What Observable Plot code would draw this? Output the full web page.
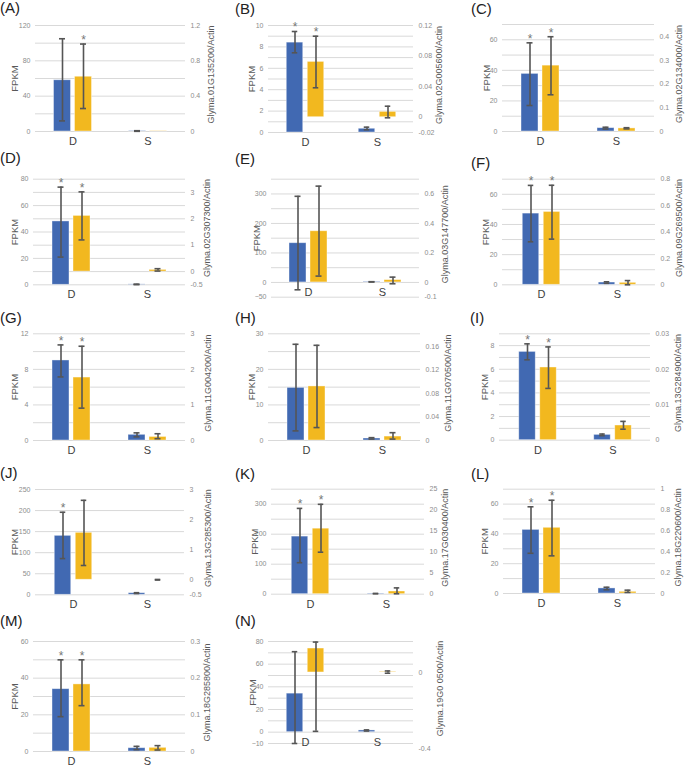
<!DOCTYPE html>
<html><head><meta charset="utf-8">
<script src="https://cdn.jsdelivr.net/npm/d3@7"></script>
<script src="https://cdn.jsdelivr.net/npm/@observablehq/plot@0.6"></script>
<style>
body{margin:0;background:#fff;font-family:"Liberation Sans",Arial,sans-serif;}
#fig{position:relative;width:685px;height:766px;overflow:hidden;background:#fff;}
.plabel{position:absolute;font-size:15px;line-height:15px;color:#222;white-space:nowrap;}
.panel{position:absolute;}
</style></head><body><div id="fig"></div>
<script>
const panelNames = ["(A)","(B)","(C)","(D)","(E)","(F)","(G)","(H)","(I)","(J)","(K)","(L)","(M)","(N)"];
const genes = ["Glyma.01G135200","Glyma.02G005600","Glyma.02G134000","Glyma.02G307300","Glyma.03G147700","Glyma.09G269500","Glyma.11G004200","Glyma.11G070500","Glyma.13G284900","Glyma.13G285300","Glyma.17G030400","Glyma.18G220600","Glyma.18G285800","Glyma.19G0 0500"];
const categories = ["D","S"];

// FPKM (blue, left axis): [D, S]
const fpkmMean = [[58,0.5],[8.4,0.35],[37.7,2.2],[48,0.3],[133,2],[47.2,1.5],[9.0,0.64],[14.8,0.56],[7.47,0.45],[140,3.8],[192,2],[42.7,3.4],[34,1.8],[34,1.5]];
const fpkmLow  = [[12,0.2],[7.45,0.25],[17,1.6],[21,0.1],[-25,1.5],[28.5,1.0],[7.15,0.41],[2.7,0.4],[6.8,0.38],[86,3],[105,1.5],[27,2.5],[19,1],[-14,1]];
const fpkmHigh = [[105,0.9],[9.44,0.5],[58,2.8],[74,0.5],[292,2.5],[65.9,2.0],[10.75,0.86],[27.05,0.8],[8.15,0.52],[196,5],[286,2.5],[58.2,4.2],[50,2.8],[71,2]];

// qRT-PCR Glyma/Actin (yellow, right axis): [D, S]
const qpcrMean = [[0.62,0.003],[0.0724,0.007],[0.278,0.013],[2.11,0.065],[0.347,0.016],[0.552,0.015],[1.77,0.1],[0.092,0.0067],[0.0205,0.00414],[1.56,0.0],[15.6,0.64],[0.63,0.016],[0.183,0.01],[0.126,0.003]];
const qpcrLow  = [[0.26,null],[0.0385,-0.0008],[0.155,0.011],[1.2,0.02],[0.043,-0.009],[0.346,0.0],[0.91,0.05],[0.022,0.0024],[0.0146,0.0031],[0.474,-0.01],[10.0,0.1],[0.361,0.01],[0.125,0.004],[-0.31,-0.004]];
const qpcrHigh = [[0.99,null],[0.106,0.0144],[0.40,0.016],[3.02,0.11],[0.653,0.036],[0.754,0.032],[2.65,0.19],[0.162,0.0133],[0.0263,0.0053],[2.64,0.01],[21.4,1.5],[0.894,0.032],[0.25,0.016],[0.16,0.008]];

// significance asterisks at D: [blue, yellow]
const stars = [[0,1],[1,1],[1,1],[1,1],[0,0],[1,1],[1,1],[0,0],[1,1],[1,0],[1,1],[1,1],[1,1],[0,0]];

// axes
const leftDomain = [[0,120],[0,10],[0,70],[0,80],[-50,350],[0,70],[0,12],[0,30],[0,9],[0,250],[0,350],[0,70],[0,60],[-10,80]];
const leftTicks = [[0,40,80,120],[0,2,4,6,8,10],[0,20,40,60],[0,20,40,60,80],[-50,0,100,200,300],[0,20,40,60],[0,4,8,12],[0,10,20,30],[0,2,4,6,8],[0,50,100,150,200,250],[0,100,200,300],[0,20,40,60],[0,20,40,60],[-10,0,20,40,60,80]];
const gridStep = [20,1,10,10,50,10,2,5,1,50,50,10,10,10];
const rightDomain = [[0,1.2],[-0.02,0.12],[0,0.4516],[-0.5,3.5],[-0.1,0.7],[0,0.8],[0,3],[0,0.1816],[0,0.03],[-0.5,3],[0,25],[0,1],[0,0.3],[-0.374,0.163]];
const rightTicks = [[0,0.4,0.8,1.2],[-0.02,0,0.04,0.08,0.12],[0,0.1,0.2,0.3,0.4],[-0.5,0,1,2,3],[-0.1,0,0.2,0.4,0.6],[0,0.2,0.4,0.6,0.8],[0,1,2,3],[0,0.04,0.08,0.12,0.16],[0,0.01,0.02,0.03],[-0.5,0,1,2,3],[0,5,10,15,20,25],[0,0.2,0.4,0.6,0.8,1],[0,0.1,0.2,0.3],[-0.4,0]];

// page layout (pixels): ox, oy, plotLeft, plotRight, plotTop, plotBottom, labelX, labelY, fpkmTitleX, rightTitleX
const layout = [
  [0,0,35,185,25,131, 0,0, 14,211],
  [228,0,268,413,25,132, 235,1, 251,439],
  [456,0,502,654,24,131, 471,1, 486,679],
  [0,150,33,185,178.7,284.3, 0,150, 14,207],
  [228,150,271,419,178.7,296.7, 235,151, 256,445],
  [456,150,502,655,178.7,284.3, 471,155, 485,679],
  [0,300,33,185,333.3,440, 0,310, 14,208],
  [228,300,268,420,333.3,440, 235,310, 251,448],
  [456,300,499,650,333.3,439.7, 470,310, 484,678],
  [0,450,35,184,489,594.3, 0,465, 14,208],
  [228,450,271,424,488.7,593.7, 235,466, 254,445],
  [456,450,503,655,488.7,593, 471,466, 484,678],
  [0,600,33,185,641,751, 0,613, 14,207],
  [228,600,268,413,641,743, 235,613, 252,440]
];

const BLUE = "#4169b2", GOLD = "#f2b81f", ERR = "#555555", GRID = "#d9d9d9";
const fig = document.getElementById("fig");
const W = 229;

panelNames.forEach((name, i) => {
  const [ox, oy, x0, x1, yTop, yBot, lx, ly, fx, rx] = layout[i];
  const H = Math.min(yBot - oy + 24, 766 - oy);
  const [lmin, lmax] = leftDomain[i];
  const [rmin, rmax] = rightDomain[i];
  const toLeft = r => lmin + (r - rmin) / (rmax - rmin) * (lmax - lmin);
  const clampL = v => Math.max(lmin, Math.min(lmax, v));
  const base = clampL(toLeft(0));
  const half = (x1 - x0) / 4;

  const blue = categories.map((c, j) => ({cat: c, v: fpkmMean[i][j], lo: clampL(fpkmLow[i][j]), hi: clampL(fpkmHigh[i][j]), star: j === 0 && stars[i][0]}));
  const gold = categories.map((c, j) => ({cat: c, v: clampL(toLeft(qpcrMean[i][j])), lo: qpcrLow[i][j] == null ? null : clampL(toLeft(qpcrLow[i][j])), hi: qpcrHigh[i][j] == null ? null : clampL(toLeft(qpcrHigh[i][j])), star: j === 0 && stars[i][1]}));
  const goldErr = gold.filter(d => d.lo != null);

  const rightFmt = new Map(rightTicks[i].map(t => [toLeft(t), String(t)]));
  const grid = d3.range(lmin, lmax + gridStep[i] / 2, gridStep[i]);

  const chart = Plot.plot({
    width: W, height: H,
    marginLeft: x0 - ox, marginRight: ox + W - x1,
    marginTop: yTop - oy, marginBottom: H - (yBot - oy),
    x: {domain: categories, padding: 0, axis: null},
    y: {domain: [lmin, lmax], axis: null},
    style: {fontFamily: "'Liberation Sans', Arial, sans-serif", background: "transparent", overflow: "visible"},
    marks: [
      Plot.ruleY(grid, {stroke: GRID, strokeWidth: 1}),
      Plot.axisY({anchor: "left", ticks: leftTicks[i], tickSize: 0, tickPadding: 5, fontSize: 7, fill: "#8c8c8c", label: null}),
      Plot.axisY({anchor: "right", ticks: [...rightFmt.keys()], tickFormat: d => rightFmt.get(d), tickSize: 0, tickPadding: 5, fontSize: 7, fill: "#8c8c8c", label: null}),
      Plot.text(["FPKM"], {frameAnchor: "left", textAnchor: "middle", dx: fx - x0, rotate: -90, fontSize: 9.5, fill: "#595959"}),
      Plot.text([genes[i] + "/Actin"], {frameAnchor: "right", textAnchor: "middle", dx: rx - x1, dy: -4, rotate: -90, fontSize: 9, fill: "#595959"}),
      Plot.barY(blue, {x: "cat", y1: () => 0, y2: "v", insetLeft: half - 19, insetRight: half + 2, fill: BLUE, stroke: "#ffffff", strokeOpacity: 0.5, strokeWidth: 0.8}),
      Plot.barY(gold, {x: "cat", y1: () => base, y2: "v", insetLeft: half + 2, insetRight: half - 19, fill: GOLD, stroke: "#ffffff", strokeOpacity: 0.5, strokeWidth: 0.8}),
      Plot.ruleX(blue, {x: "cat", y1: "lo", y2: "hi", dx: -10.5, stroke: ERR, strokeWidth: 1.6}),
      Plot.tickY(blue, {x: "cat", y: "hi", insetLeft: half - 13.5, insetRight: half + 7.5, stroke: ERR, strokeWidth: 1.6}),
      Plot.tickY(blue, {x: "cat", y: "lo", insetLeft: half - 13.5, insetRight: half + 7.5, stroke: ERR, strokeWidth: 1.6}),
      Plot.ruleX(goldErr, {x: "cat", y1: "lo", y2: "hi", dx: 10.5, stroke: ERR, strokeWidth: 1.6}),
      Plot.tickY(goldErr, {x: "cat", y: "hi", insetLeft: half + 7.5, insetRight: half - 13.5, stroke: ERR, strokeWidth: 1.6}),
      Plot.tickY(goldErr, {x: "cat", y: "lo", insetLeft: half + 7.5, insetRight: half - 13.5, stroke: ERR, strokeWidth: 1.6}),
      Plot.text(blue.filter(d => d.star), {x: "cat", y: "hi", dx: -10.5, dy: -4, text: () => "*", fontSize: 12, fill: "#777"}),
      Plot.text(gold.filter(d => d.star), {x: "cat", y: "hi", dx: 10.5, dy: -4, text: () => "*", fontSize: 12, fill: "#777"}),
      Plot.text(categories, {x: d => d, y: () => 0, dy: 10, fontSize: 11, fill: "#404040"})
    ]
  });
  chart.classList.add("panel");
  chart.style.left = ox + "px";
  chart.style.top = oy + "px";
  fig.appendChild(chart);

  const lab = document.createElement("div");
  lab.className = "plabel";
  lab.style.left = lx + "px";
  lab.style.top = ly + "px";
  lab.textContent = name;
  fig.appendChild(lab);
});
</script>
</body></html>
